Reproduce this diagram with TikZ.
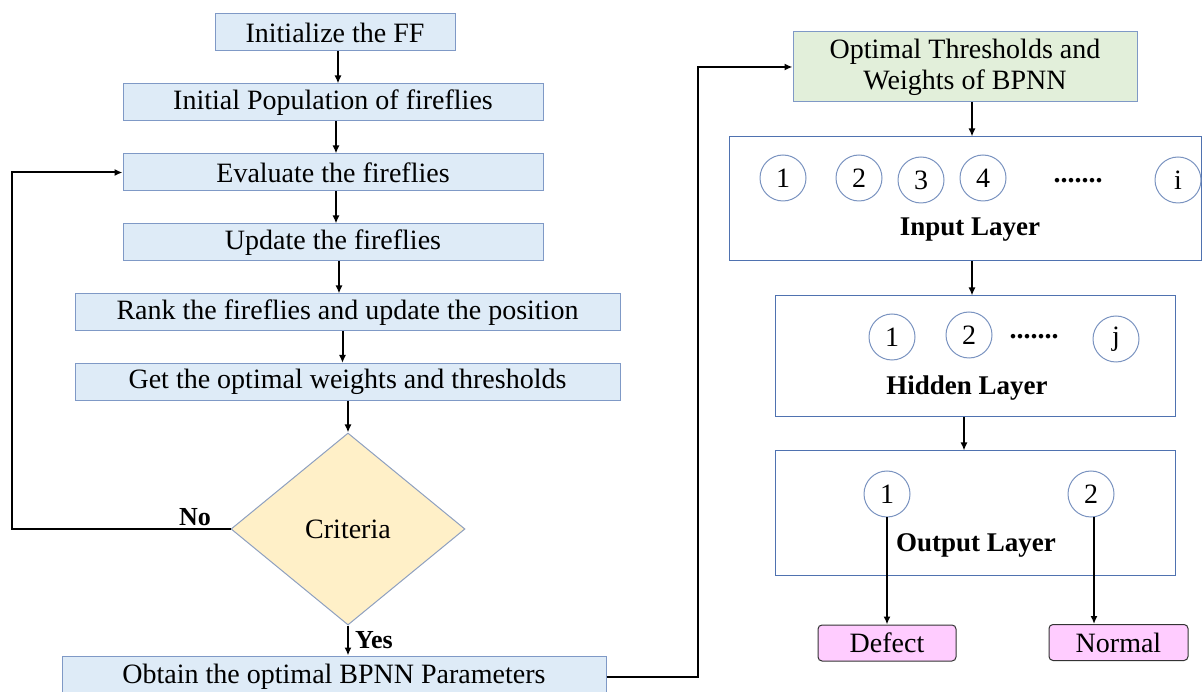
\documentclass[tikz,border=0pt]{standalone}
\usepackage{fontspec}
\setmainfont{Liberation Serif}
\usetikzlibrary{shapes.geometric,arrows.meta}
\definecolor{boxblue}{HTML}{DEEBF7}
\definecolor{edgeblue}{HTML}{7F99C6}
\definecolor{layeredge}{HTML}{4F72B0}
\definecolor{circedge}{HTML}{7A93C0}
\definecolor{diafill}{HTML}{FFF0C8}
\definecolor{diaedge}{HTML}{8EA0C0}
\definecolor{greenfill}{HTML}{E2EFDA}
\definecolor{pinkfill}{HTML}{FFCCFF}
\tikzset{
  proc/.style={draw=edgeblue, fill=boxblue, line width=1pt, inner sep=0pt,
    minimum height=37pt, font=\fontsize{28}{32}\selectfont},
  layer/.style={draw=layeredge, line width=1pt, inner sep=0pt},
  neuron/.style={circle, draw=circedge, line width=1pt, minimum size=46pt,
    inner sep=0pt, font=\fontsize{28}{30}\selectfont},
  ltext/.style={font=\fontsize{27}{30}\selectfont\bfseries, inner sep=0pt},
  dots/.style={font=\fontsize{28}{30}\selectfont\bfseries, inner sep=0pt},
  result/.style={draw=black!80, fill=pinkfill, rounded corners=4pt, line width=1pt,
    inner sep=0pt, minimum height=36pt, font=\fontsize{28}{32}\selectfont},
  arr/.style={draw=black, line width=2pt, -{Latex[length=8pt,width=7pt]}},
  lbl/.style={font=\fontsize{26}{29}\selectfont\bfseries, inner sep=0pt}
}
\begin{document}
\begin{tikzpicture}[x=1pt,y=-1pt]
\useasboundingbox (0,0) rectangle (1203,692);
% left column
\node[proc, minimum width=240pt] (b1) at (335,32.5) {Initialize the FF};
\node[proc, minimum width=420pt] (b2) at (333,102.5) {Initial Population of fireflies};
\node[proc, minimum width=420pt] (b3) at (333,172.5) {Evaluate the fireflies};
\node[proc, minimum width=420pt] (b4) at (333,242.5) {Update the fireflies};
\node[proc, minimum width=545pt] (b5) at (347.5,312.5) {Rank the fireflies and update the position};
\node[proc, minimum width=545pt] (b6) at (347.5,382) {Get the optimal weights and thresholds};
\node[diamond, draw=diaedge, fill=diafill, line width=1pt, inner sep=0pt,
  minimum width=234pt, minimum height=192pt, font=\fontsize{28}{32}\selectfont] (dec) at (348,529) {Criteria};
\node[proc, minimum width=544pt, minimum height=42pt] (b7) at (334,677) {Obtain the optimal BPNN Parameters};
\node[lbl] (no) at (195,517) {No};
\node[lbl] (yes) at (374,640) {Yes};
\coordinate (lp) at (12,529);
\coordinate (rp) at (698,677);
\draw[arr] ([xshift=3pt]b1.south) -- ([xshift=3pt]b1.south |- b2.north);
\draw[arr] ([xshift=3pt]b2.south) -- ([xshift=3pt]b2.south |- b3.north);
\draw[arr] ([xshift=3pt]b3.south) -- ([xshift=3pt]b3.south |- b4.north);
\draw[arr] ([xshift=6pt]b4.south) -- ([xshift=6pt]b4.south |- b5.north);
\draw[arr] ([xshift=-5pt]b5.south) -- ([xshift=-5pt]b5.south |- b6.north);
\draw[arr] (dec.north |- b6.south) -- (dec.north);
\draw[arr] (dec.south) -- (dec.south |- b7.north);
\draw[arr] (dec.west) -- (lp) |- (b3.west);
% right column
\node[draw=edgeblue, fill=greenfill, line width=1pt, inner sep=0pt,
  minimum width=344pt, minimum height=70pt, align=center,
  font=\fontsize{28}{31}\selectfont] (green) at (965,67) {Optimal Thresholds and\\Weights of BPNN};
\draw[arr] (b7.east) -- (rp) |- (green.west);
\node[layer, minimum width=472pt, minimum height=124pt] (inl) at (965,199) {};
\node[layer, minimum width=400pt, minimum height=121pt] (hid) at (975,356.5) {};
\node[layer, minimum width=400pt, minimum height=124pt] (outl) at (975,513) {};
\draw[arr] ([xshift=7pt]green.south) -- ([xshift=7pt]green.south |- inl.north);
\draw[arr] ([xshift=-3pt]hid.north |- inl.south) -- ([xshift=-3pt]hid.north);
\draw[arr] ([xshift=-11pt]outl.north |- hid.south) -- ([xshift=-11pt]outl.north);
% input neurons
\node[neuron] (i1) at (783,178) {1};
\node[neuron] (i2) at (859,178) {2};
\node[neuron] (i3) at (921,180) {3};
\node[neuron] (i4) at (983,178) {4};
\node[dots] (idots) at (1078,181) {.......};
\node[neuron] (ii) at (1178,180) {i};
\node[ltext] (inlab) at (970,230) {Input Layer};
% hidden neurons
\node[neuron] (h1) at (892,337) {1};
\node[neuron] (h2) at (969,335) {2};
\node[dots] (hdots) at (1034,337) {.......};
\node[neuron] (hj) at (1116,339) {j};
\node[ltext] (hidlab) at (967,388) {Hidden Layer};
% output neurons
\node[neuron] (o1) at (887,494) {1};
\node[neuron] (o2) at (1091,494) {2};
\node[ltext] (outlab) at (976,545) {Output Layer};
% results
\node[result, minimum width=138pt] (def) at (887,643) {Defect};
\node[result, minimum width=139pt] (nor) at (1118.5,642.5) {Normal};
\draw[arr] (o1.south) -- (o1.south |- def.north);
\draw[arr] ([xshift=3pt]o2.south) -- ([xshift=3pt]o2.south |- nor.north);
\end{tikzpicture}
\end{document}
